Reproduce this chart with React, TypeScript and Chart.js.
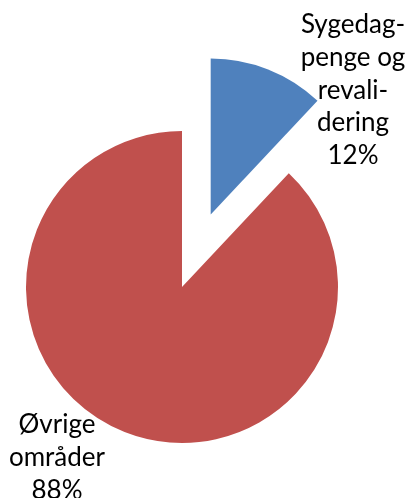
import React, { useEffect, useRef } from "react";
import { Chart, registerables } from "chart.js";

Chart.register(...registerables);

const categories = ["Sygedagpenge og revalidering", "Øvrige områder"];
const labelLines = [
  ["Sygedag-", "penge og", "revali-", "dering"],
  ["Øvrige", "områder"],
];
const values = [12, 88];
const colors = ["#4F81BD", "#C0504D"];

const explodePlugin = {
  id: "explode",
  afterDatasetUpdate(chart: any, args: any) {
    const meta = chart.getDatasetMeta(args.index);
    const arc: any = meta.data[0];
    if (!arc) return;
    const mid = (arc.startAngle + arc.endAngle) / 2;
    const dist = 78;
    arc.x += Math.cos(mid) * dist;
    arc.y += Math.sin(mid) * dist;
  },
};

const labelPlugin = {
  id: "sliceLabels",
  afterDraw(chart: any) {
    const ctx = chart.ctx;
    const meta = chart.getDatasetMeta(0);
    const c: any = meta.data[1];
    const cx = c.x;
    const cy = c.y;
    const pos = [
      { x: cx + 171, y: cy - 262 },
      { x: cx - 125, y: cy + 138 },
    ];
    ctx.save();
    ctx.fillStyle = "#000";
    ctx.font = "26px Lato";
    ctx.textAlign = "center";
    ctx.textBaseline = "middle";
    const lh = 32.6;
    values.forEach((v, i) => {
      const lines = [...labelLines[i], `${v}%`];
      lines.forEach((t, j) => {
        ctx.fillText(t, pos[i].x, pos[i].y + j * lh);
      });
    });
    ctx.restore();
  },
};

export default function App() {
  const ref = useRef<HTMLCanvasElement>(null);
  useEffect(() => {
    document.body.style.margin = "0";
    const chart = new Chart(ref.current!, {
      type: "pie",
      data: {
        labels: categories,
        datasets: [
          {
            data: values,
            backgroundColor: colors,
            borderWidth: 0,
          },
        ],
      },
      options: {
        responsive: false,
        animation: false,
        radius: 156,
        layout: { padding: { left: 0, right: 43, top: 76, bottom: 0 } },
        plugins: {
          legend: { display: false },
          tooltip: { enabled: false },
        },
      } as any,
      plugins: [explodePlugin, labelPlugin],
    });
    return () => chart.destroy();
  }, []);
  return (
    <div style={{ position: "fixed", left: 0, top: 0, width: 407, height: 498, background: "#fff" }}>
      <canvas ref={ref} width={407} height={498} />
    </div>
  );
}
